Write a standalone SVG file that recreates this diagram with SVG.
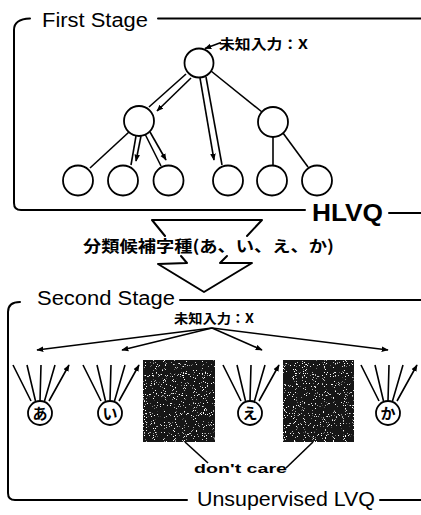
<svg xmlns="http://www.w3.org/2000/svg" width="421" height="515" viewBox="0 0 421 515">
<style>
.frame{fill:none;stroke:#000;stroke-width:2;stroke-linecap:round;stroke-linejoin:round}
.edge{fill:none;stroke:#000;stroke-width:1.6}
.arr{fill:none;stroke:#000;stroke-width:1.6;marker-end:url(#ah)}
.node{fill:#fff;stroke:#000;stroke-width:1.8}
.en{font-family:"Liberation Sans",Arial,sans-serif;fill:#000}
.jp{font-family:"Noto Sans CJK JP","Liberation Sans",sans-serif;font-weight:bold;fill:#000}
.box{fill:#141414}
</style>
<defs>
<marker id="ah" viewBox="0 0 10 10" refX="9" refY="5" markerWidth="7" markerHeight="7" markerUnits="userSpaceOnUse" orient="auto">
<path d="M0,1 L10,5 L0,9 Z" fill="#000"/>
</marker>
<filter id="speck" x="0" y="0" width="1" height="1">
<feTurbulence type="fractalNoise" baseFrequency="0.9" numOctaves="1" seed="7" result="t"/>
<feColorMatrix in="t" type="matrix" values="0 0 0 0 1 0 0 0 0 1 0 0 0 0 1 16 0 0 0 -10.2" result="w"/>
<feComposite in="w" in2="SourceGraphic" operator="in" result="s"/>
<feMerge><feMergeNode in="SourceGraphic"/><feMergeNode in="s"/></feMerge>
</filter>
</defs>

<g id="first-stage-frame">
<path class="frame" d="M30,18.5 Q14,19 14,30 L14,203 Q14,210 21,210 L305,210"/>
<path class="frame" d="M158,18.5 L421,18.5"/>
<path class="frame" d="M389,213 L421,213"/>
<text class="en" x="42" y="27" font-size="20" textLength="106" lengthAdjust="spacingAndGlyphs">First Stage</text>
<text class="en" x="312" y="221" font-size="23" font-weight="bold" textLength="71" lengthAdjust="spacingAndGlyphs">HLVQ</text>
</g>

<g id="connectors-first">
<path class="arr" d="M221,42.5 L205,48.5"/>
<path class="edge" d="M186,74 L149,107"/>
<path class="arr" d="M191,78 L157,111"/>
<path class="edge" d="M206,77 L222,165"/>
<path class="arr" d="M200,78 L214,160"/>
<path class="edge" d="M211,71 L262,112"/>
<path class="edge" d="M129,132 L90,168"/>
<path class="edge" d="M136,136 L131,165"/>
<path class="arr" d="M141,136 L136,161"/>
<path class="edge" d="M145,134 L161,166"/>
<path class="arr" d="M150,132 L166,160"/>
<path class="edge" d="M273,137 L273,165"/>
<path class="edge" d="M283,133 L308,167"/>
</g>

<g id="root"><circle class="node" cx="199" cy="63" r="14.5"/></g>
<g id="root-label"><text class="jp" x="219" y="49" font-size="13.5" textLength="89" lengthAdjust="spacingAndGlyphs">未知入力：X</text></g>
<g id="mid-left"><circle class="node" cx="139" cy="121" r="15"/></g>
<g id="mid-right"><circle class="node" cx="273" cy="122" r="15"/></g>
<g id="leaf1"><circle class="node" cx="78" cy="180.5" r="15"/></g>
<g id="leaf2"><circle class="node" cx="123" cy="180.5" r="15"/></g>
<g id="leaf3"><circle class="node" cx="168.5" cy="180.5" r="15"/></g>
<g id="leaf4"><circle class="node" cx="228" cy="180.5" r="15"/></g>
<g id="leaf5"><circle class="node" cx="272" cy="180.5" r="15"/></g>
<g id="leaf6"><circle class="node" cx="317" cy="180.5" r="15"/></g>

<g id="stage-arrow">
<path class="frame" d="M165,236 L152,220 L262,220 L247,236"/>
<path class="frame" d="M181,256 L187,263 L158,264 L204,292 L252,263 L220,263 L227,256"/>
<text class="jp" x="83" y="252" font-size="16" textLength="251" lengthAdjust="spacingAndGlyphs">分類候補字種(あ、い、え、か)</text>
</g>

<g id="second-stage-frame">
<path class="frame" d="M20,302 Q8,302 8,312 L8,493 Q8,500 15,500 L187,500"/>
<path class="frame" d="M180,300 L421,300"/>
<path class="frame" d="M380,500 L421,500"/>
<text class="en" x="37" y="305" font-size="20" textLength="138" lengthAdjust="spacingAndGlyphs">Second Stage</text>
<text class="en" x="197" y="506" font-size="21" textLength="178" lengthAdjust="spacingAndGlyphs">Unsupervised LVQ</text>
</g>

<g id="input-label"><text class="jp" x="174" y="323" font-size="13" textLength="80" lengthAdjust="spacingAndGlyphs">未知入力：X</text></g>

<g id="connectors-second">
<path class="arr" d="M212,328 L37,350"/>
<path class="arr" d="M212,328 L122,350"/>
<path class="arr" d="M212,328 L262,350"/>
<path class="arr" d="M212,328 L388,350"/>
<path class="edge" d="M185,442 L208,463"/>
<path class="edge" d="M313,442 L286,468"/>
</g>

<g id="class-a">
<path class="arr" d="M31,401 L13,365 M35.5,401 L27,365 M40,401 L41,365 M44.5,401 L55,365 M49,401 L69,365"/>
<circle class="node" cx="40" cy="413" r="12"/>
<text class="jp" x="40" y="419" font-size="15" text-anchor="middle">あ</text>
</g>
<g id="class-i">
<path class="arr" d="M101,401 L83,365 M105.5,401 L97,365 M110,401 L111,365 M114.5,401 L125,365 M119,401 L139,365"/>
<circle class="node" cx="110" cy="413" r="12"/>
<text class="jp" x="110" y="419" font-size="15" text-anchor="middle">い</text>
</g>
<g id="dontcare-1"><rect class="box" x="143" y="360" width="72" height="82" filter="url(#speck)"/></g>
<g id="class-e">
<path class="arr" d="M241,401 L223,365 M245.5,401 L237,365 M250,401 L251,365 M254.5,401 L265,365 M259,401 L279,365"/>
<circle class="node" cx="250" cy="413" r="12"/>
<text class="jp" x="250" y="419" font-size="15" text-anchor="middle">え</text>
</g>
<g id="dontcare-2"><rect class="box" x="283" y="360" width="71" height="82" filter="url(#speck)"/></g>
<g id="class-ka">
<path class="arr" d="M379,401 L361,365 M383.5,401 L375,365 M388,401 L389,365 M392.5,401 L403,365 M397,401 L417,365"/>
<circle class="node" cx="388" cy="413" r="12"/>
<text class="jp" x="388" y="419" font-size="15" text-anchor="middle">か</text>
</g>
<g id="dontcare-label"><text class="en" x="194" y="473" font-size="13" font-weight="bold" textLength="93" lengthAdjust="spacingAndGlyphs">don't care</text></g>
</svg>
